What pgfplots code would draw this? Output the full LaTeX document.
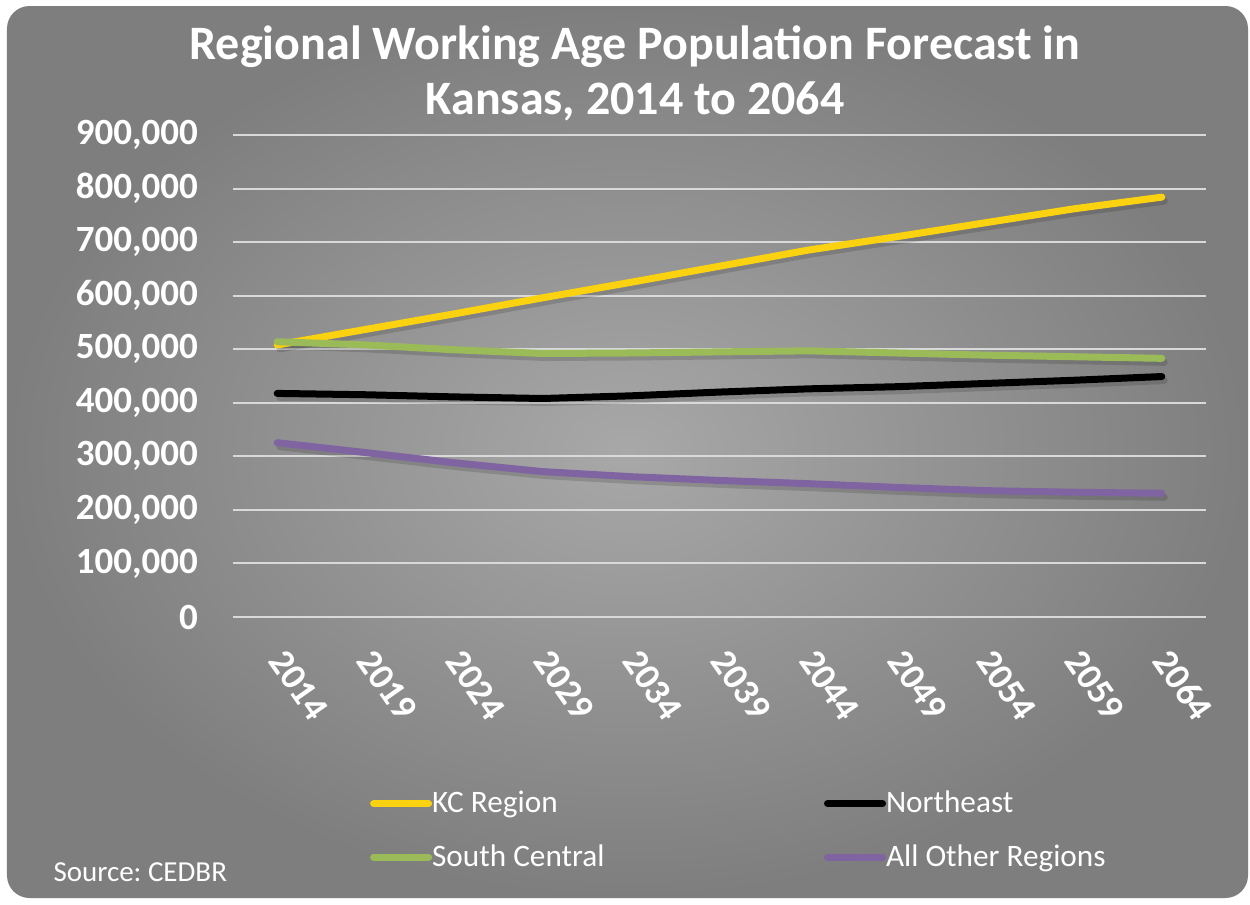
\documentclass[border=0pt]{standalone}
\usepackage{pgfplots}
\pgfplotsset{compat=1.18}
\usepackage{fontspec}
\setmainfont{Carlito}
\frenchspacing
\definecolor{kcyellow}{RGB}{250,210,15}
\definecolor{scgreen}{RGB}{155,187,89}
\definecolor{aopurple}{RGB}{128,100,162}
\definecolor{gridc}{RGB}{217,217,217}
\definecolor{bginner}{RGB}{168,168,168}
\definecolor{bgouter}{RGB}{126,126,126}
\newcommand\pp[2]{({#1*0.4pt},{(904-#2)*0.4pt})}
\begin{document}
\begin{tikzpicture}
\useasboundingbox (0,0) rectangle (500pt,361.6pt);
\fill[white] (0,0) rectangle (500pt,361.6pt);
\shade[inner color=bginner, outer color=bgouter, rounded corners=9pt] \pp{7}{898} rectangle \pp{1248}{6};
\node[text=white, font=\fontsize{19.2}{22}\selectfont\bfseries, align=center] at \pp{635}{73} {Regional Working Age Population Forecast in\\Kansas, 2014 to 2064};
\node[text=white, font=\fontsize{11.6}{14}\selectfont, anchor=west, inner sep=0pt] at \pp{53}{872} {Source:\ CEDBR};
\begin{axis}[
  at={(93.2pt,114.8pt)}, anchor=south west,
  scale only axis, width=389.2pt, height=192.8pt,
  xmin=-0.5, xmax=10.5, ymin=0, ymax=900000,
  axis line style={draw=none},
  tick style={draw=none},
  xtick={0,...,10},
  xticklabels={2014,2019,2024,2029,2034,2039,2044,2049,2054,2059,2064},
  ytick={0,100000,...,900000},
  scaled y ticks=false,
  yticklabel style={xshift=-10.5pt, /pgf/number format/fixed, /pgf/number format/1000 sep={,}, /pgf/number format/assume math mode=true},
  ymajorgrids, grid style={gridc, line width=0.8pt},
  major tick length=0pt,
  tick label style={text=white, font=\fontsize{14.8}{16}\selectfont\bfseries},
  xticklabel style={yshift=-12pt, xshift=-2pt, rotate=-55, anchor=west, /pgf/number format/assume math mode=true},
  legend columns=2,
  legend style={draw=none, fill=none, at={(0.1327,-0.339)}, anchor=north west,
    font=\fontsize{12.5}{15}\selectfont, text=white, row sep=7.2pt,
    /tikz/every even column/.append style={column sep=87.8pt},
    nodes={inner xsep=0pt}},
  legend cell align=left,
  legend image code/.code={\draw[#1] (0pt,0pt) -- (22pt,0pt);},
  every axis plot/.append style={line width=2.8pt, line cap=round, line join=round},
]
% shadows
\addplot[black, opacity=0.14, forget plot, transform canvas={xshift=1pt,yshift=-1.6pt}] coordinates {(0,508000)(1,537000)(2,566000)(3,596000)(4,625000)(5,655000)(6,685000)(7,710000)(8,736000)(9,762000)(10,784000)};
\addplot[black, opacity=0.14, forget plot, transform canvas={xshift=1pt,yshift=-1.6pt}] coordinates {(0,417500)(1,415000)(2,411000)(3,408000)(4,413000)(5,420000)(6,426000)(7,430000)(8,436000)(9,442000)(10,449000)};
\addplot[black, opacity=0.14, forget plot, transform canvas={xshift=1pt,yshift=-1.6pt}] coordinates {(0,514000)(1,508000)(2,499000)(3,492000)(4,493000)(5,495000)(6,497000)(7,493000)(8,489000)(9,486000)(10,483000)};
\addplot[black, opacity=0.14, forget plot, transform canvas={xshift=1pt,yshift=-1.6pt}] coordinates {(0,325500)(1,307000)(2,288000)(3,271500)(4,262000)(5,255000)(6,249000)(7,242000)(8,236000)(9,233000)(10,231000)};
% series
\addplot[kcyellow] coordinates {(0,508000)(1,537000)(2,566000)(3,596000)(4,625000)(5,655000)(6,685000)(7,710000)(8,736000)(9,762000)(10,784000)};
\addlegendentry{KC Region}
\addplot[black] coordinates {(0,417500)(1,415000)(2,411000)(3,408000)(4,413000)(5,420000)(6,426000)(7,430000)(8,436000)(9,442000)(10,449000)};
\addlegendentry{Northeast}
\addplot[scgreen] coordinates {(0,514000)(1,508000)(2,499000)(3,492000)(4,493000)(5,495000)(6,497000)(7,493000)(8,489000)(9,486000)(10,483000)};
\addlegendentry{South Central}
\addplot[aopurple] coordinates {(0,325500)(1,307000)(2,288000)(3,271500)(4,262000)(5,255000)(6,249000)(7,242000)(8,236000)(9,233000)(10,231000)};
\addlegendentry{All Other Regions}
\end{axis}
\end{tikzpicture}
\end{document}
